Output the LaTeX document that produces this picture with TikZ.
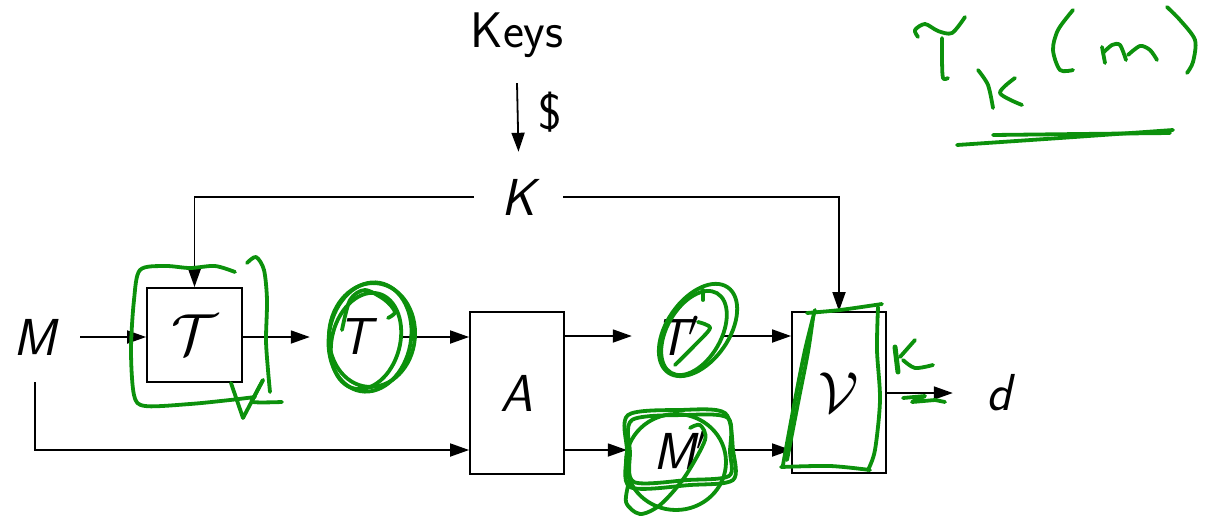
\RequirePackage{fix-cm}
\documentclass[tikz,border=0pt]{standalone}
\usepackage{fontspec}
\usetikzlibrary{arrows.meta}
\definecolor{inkgreen}{RGB}{12,145,12}
\begin{document}
\begin{tikzpicture}[x=1pt,y=-1pt,
  ln/.style={line width=1.8pt},
  arr/.style={ln,-{Triangle[length=19pt,width=13pt]}},
  box/.style={draw,line width=1.8pt,inner sep=0pt,font=\fontsize{58}{66}\selectfont},
  lbl/.style={font=\fontsize{52}{60}\selectfont\sffamily\itshape,inner sep=0pt},
  txt/.style={font=\fontsize{50}{60}\selectfont\sffamily,inner sep=0pt},
  ink/.style={draw=inkgreen,line width=3.8pt,line cap=round,line join=round}]
\useasboundingbox (0,0) rectangle (1205,517);

% nodes
\node[txt,minimum height=96pt] (keys) at (517,35) {Keys};
\node[lbl,minimum width=89pt,minimum height=90pt] (K) at (518.5,197) {K};
\node[lbl,minimum width=90pt,minimum height=90pt] (M) at (35,337) {M};
\node[box,minimum width=95pt,minimum height=94pt] (tbox) at (194.5,335) {$\mathcal{T}$};
\node[lbl,minimum width=90pt] (T) at (355,337) {T};
\node[box,minimum width=94pt,minimum height=162pt] (abox) at (517,393) {\fontsize{52}{60}\selectfont\sffamily\itshape A};
\node[lbl,minimum width=91pt] (Tp) at (677.5,336) {T$'$};
\node[lbl,minimum width=106pt] (Mp) at (680,450) {M$'$};
\node[box,minimum width=94pt,minimum height=161pt] (vbox) at (839,392.5) {$\mathcal{V}$};
\node[lbl,minimum width=92pt] (d) at (999,393) {d};

% connectors
\draw[arr] (keys.south) -- node[txt,right=20pt,yshift=5pt] (dollar) {\$} (K.north);
\draw[arr] (K.west) -| (tbox.north);
\draw[arr] (K.east) -| (vbox.north);
\draw[arr] (M.east) -- (M.east -| tbox.west);
\draw[arr] (tbox.east |- T) -- (T.west);
\draw[arr] (T.east) -- (T.east -| abox.west);
\draw[arr] (M.south) |- (abox.west |- Mp);
\draw[arr] (abox.east |- Tp) -- (Tp.west);
\draw[arr] (abox.east |- Mp) -- (Mp.west);
\draw[arr] (Tp.east) -- (Tp.east -| vbox.west);
\draw[arr] (Mp.east) -- (Mp.east -| vbox.west);
\draw[arr] (vbox.east |- d) -- (d.west);

% green annotations: T box
\draw[ink] plot[smooth] coordinates {(235,272) (215,266) (190,268) (165,266) (140,270) (134,300) (131,350) (134,395) (145,406) (190,404) (230,400) (255,397)};
\draw[ink] (231,383) -- (243,418) -- (263,380);
\draw[ink] plot[smooth] coordinates {(263,380) (255,395) (253,402) (282,402)};
\draw[ink] plot[smooth] coordinates {(247,263) (256,257) (264,270) (267,300) (266,340) (268,370) (270,392)};
% T circle
\draw[ink] (370,337) ellipse[x radius=41pt,y radius=55pt,rotate=-10];
\draw[ink] (366,341) ellipse[x radius=34pt,y radius=49pt,rotate=-15];
\draw[ink] (372,335) ellipse[x radius=43pt,y radius=52pt,rotate=-5];
\draw[ink] plot[smooth] coordinates {(342,330) (350,300) (365,290) (385,300) (395,312) (388,318)};
% T' circle
\draw[ink] (698,330) ellipse[x radius=52pt,y radius=31pt,rotate=55];
\draw[ink] (694,333) ellipse[x radius=46pt,y radius=27pt,rotate=60];
\draw[ink] (703,290) -- (703,300);
\draw[ink] plot[smooth] coordinates {(698,322) (710,328) (695,345) (675,365)};
% M' scribble
\draw[ink] plot[smooth cycle] coordinates {(628,415) (680,410) (725,413) (733,450) (733,480) (690,485) (630,487) (627,450)};
\draw[ink] plot[smooth cycle] coordinates {(632,420) (685,415) (728,418) (730,452) (729,476) (688,480) (634,482) (630,452)};
\draw[ink] (676,462) ellipse[x radius=50pt,y radius=48pt];
\draw[ink] plot[smooth] coordinates {(630,478) (626,502) (640,514) (660,505) (684,478) (705,440) (700,425) (690,428)};
% V enclosure
\draw[ink] plot[smooth] coordinates {(807,313) (840,310) (882,304)};
\draw[ink] plot[smooth] coordinates {(878,307) (877,350) (880,400) (875,450) (868,470)};
\draw[ink] plot[smooth] coordinates {(870,470) (830,466) (781,467)};
\draw[ink] plot[smooth] coordinates {(783,465) (795,400) (805,350) (815,310)};
\draw[ink] plot[smooth] coordinates {(787,460) (799,398) (808,352) (813,318)};
% marks near V
\draw[ink,line width=5pt] (895,347) -- (898,372);
\draw[ink] (900,357) -- (915,340);
\draw[ink] plot[smooth] coordinates {(903,360) (915,368) (933,365)};
\draw[ink] plot coordinates {(903,398) (925,396) (912,402) (935,400) (945,402)};
% handwritten T_k(m)
\draw[ink] plot[smooth] coordinates {(918,37) (915,30) (925,24) (938,31) (952,33) (965,17)};
\draw[ink] plot[smooth] coordinates {(942,38) (942,60) (943,78) (948,78)};
\draw[ink] plot[smooth] coordinates {(978,70) (988,85) (993,108)};
\draw[ink] plot[smooth] coordinates {(1015,78) (1000,93) (1022,105)};
\draw[ink] plot[smooth] coordinates {(1073,10) (1058,30) (1053,50) (1060,70) (1073,70)};
\draw[ink] (1102,47) -- (1105,63);
\draw[ink] plot[smooth] coordinates {(1103,53) (1112,45) (1120,45) (1126,60)};
\draw[ink] plot[smooth] coordinates {(1128,55) (1140,46) (1150,50) (1157,60)};
\draw[ink] plot[smooth] coordinates {(1167,7) (1180,20) (1195,40) (1193,62) (1187,73)};
\draw[ink] plot[smooth] coordinates {(957,145) (1060,138) (1173,130)};
\draw[ink] plot[smooth] coordinates {(993,135) (1080,134) (1170,133)};
\end{tikzpicture}
\end{document}
